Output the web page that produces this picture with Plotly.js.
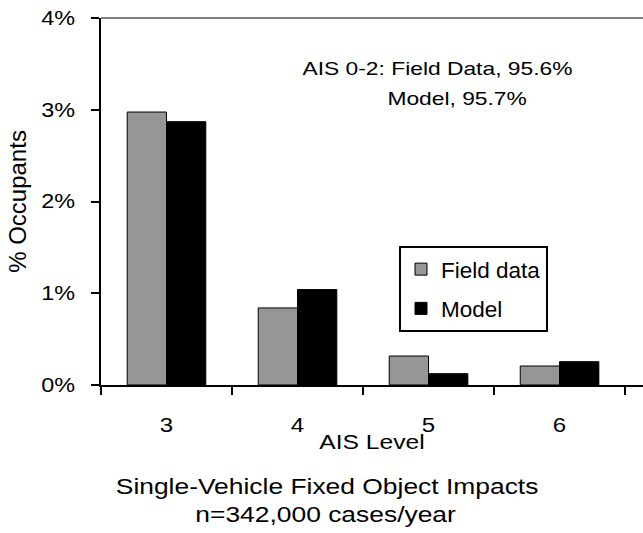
<!DOCTYPE html>
<html>
<head>
<meta charset="utf-8">
<script src="https://cdn.plot.ly/plotly-3.0.1.min.js"></script>
<style>html,body{margin:0;padding:0;background:#fff;}#chart{width:643px;height:533px;}</style>
</head>
<body>
<div id="chart"></div>
<script>
const categories = ["3", "4", "5", "6"];
const fieldData = [2.975, 0.84, 0.316, 0.207];
const modelData = [2.87, 1.04, 0.123, 0.254];
const yTickVals = [0, 1, 2, 3, 4];
const yTickText = ["0%", "1%", "2%", "3%", "4%"];

const FONT = "Liberation Sans, Arial, sans-serif";
const STRETCH = 1.2;

const traces = [
  {
    type: "bar", name: "Field data", x: categories, y: fieldData,
    marker: {color: "#969696", line: {color: "#000", width: 1}},
    legendgroup: "a", hoverinfo: "skip"
  },
  {
    type: "bar", name: "Model", x: categories, y: modelData,
    marker: {color: "#000000", line: {color: "#000", width: 1}},
    legendgroup: "b", hoverinfo: "skip"
  }
];

const L = 101, T = 18, PW = 542, PH = 367;
const px = v => (v - L) / PW;
const py = v => (T + PH - v) / PH;

const layout = {
  width: 643, height: 533,
  margin: {l: 101, r: 0, t: 18, b: 148},
  paper_bgcolor: "#fff", plot_bgcolor: "#fff",
  font: {family: FONT, size: 19, color: "#000"},
  barmode: "group", bargap: 0.4, bargroupgap: 0,
  showlegend: true,
  legend: {
    x: px(399), y: py(246), xanchor: "left", yanchor: "top",
    bordercolor: "#000", borderwidth: 2, bgcolor: "#fff",
    font: {family: FONT, size: 22.5, color: "#000"},
    traceorder: "grouped", tracegroupgap: 7
  },
  xaxis: {
    type: "category", range: [-0.5, 3.637],
    showline: true, linecolor: "#000", linewidth: 2,
    ticks: "outside", ticklen: 8, tickwidth: 2, tickcolor: "#000",
    tickson: "boundaries", ticklabelstandoff: 21,
    showgrid: false, zeroline: false,
    tickfont: {family: FONT, size: 20},
    title: {text: "AIS Level", font: {family: FONT, size: 20.5}, standoff: 0}
  },
  yaxis: {
    range: [0, 4], tickvals: yTickVals, ticktext: yTickText,
    showline: true, linecolor: "#000", linewidth: 2,
    ticks: "outside", ticklen: 8, tickwidth: 2, tickcolor: "#000",
    ticklabelstandoff: 12,
    showgrid: false, zeroline: false,
    tickfont: {family: FONT, size: 19.5},
    title: {text: "% Occupants", font: {family: FONT, size: 24}, standoff: 14}
  },
  shapes: [
    {type: "line", xref: "paper", yref: "paper", x0: 0, x1: 1, y0: 1, y1: 1,
     line: {color: "#808080", width: 2}}
  ],
  annotations: [
    {text: "AIS 0-2: Field Data, 95.6%", xref: "paper", yref: "paper",
     x: px(437), y: py(68), xanchor: "center", yanchor: "middle",
     showarrow: false, font: {family: FONT, size: 19}},
    {text: "Model, 95.7%", xref: "paper", yref: "paper",
     x: px(457), y: py(98), xanchor: "center", yanchor: "middle",
     showarrow: false, font: {family: FONT, size: 19}},
    {text: "Single-Vehicle Fixed Object Impacts", xref: "paper", yref: "paper",
     x: px(326.5), y: py(487), xanchor: "center", yanchor: "middle",
     showarrow: false, font: {family: FONT, size: 22}},
    {text: "n=342,000 cases/year", xref: "paper", yref: "paper",
     x: px(325), y: py(514), xanchor: "center", yanchor: "middle",
     showarrow: false, font: {family: FONT, size: 22}}
  ]
};

Plotly.newPlot("chart", traces, layout, {staticPlot: true, displayModeBar: false}).then(gd => {
  // reference text is horizontally widened; widen glyphs (keeps anchors)
  gd.querySelectorAll("svg text").forEach(t => {
    if (t.closest(".g-ytitle") || t.closest(".legend")) return;
    const len = t.getComputedTextLength();
    if (!len) return;
    t.setAttribute("textLength", (len * STRETCH).toFixed(2));
    t.setAttribute("lengthAdjust", "spacingAndGlyphs");
  });
});
</script>
</body>
</html>
